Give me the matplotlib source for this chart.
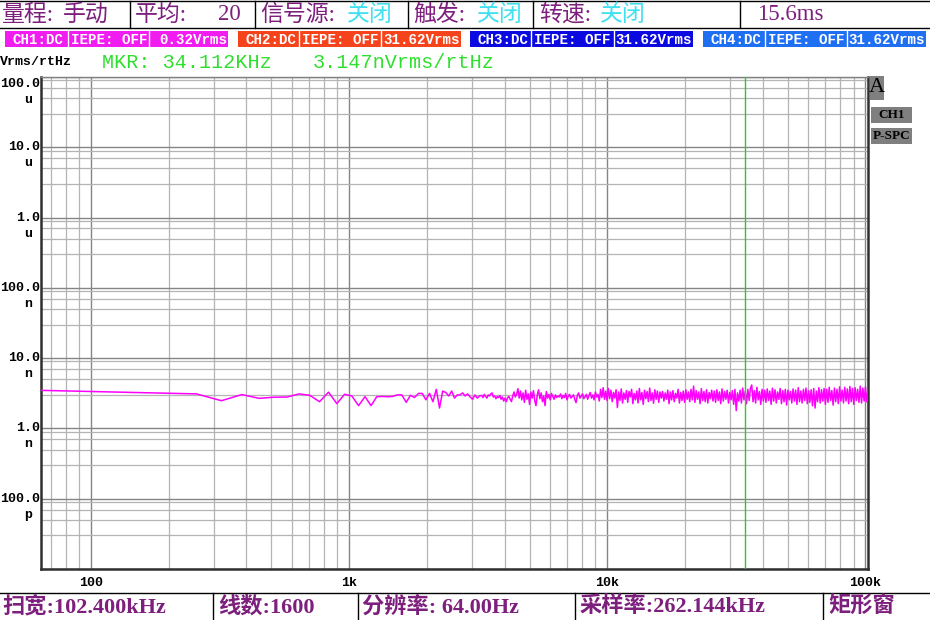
import matplotlib.pyplot as plt
import matplotlib.lines as mlines
import matplotlib.patches as mpatches
import matplotlib.transforms as mtrans
from matplotlib.ticker import LogLocator, NullFormatter
import numpy as np

W, H = 930, 620

bin_width_hz = 64.0          # 分辨率
marker_hz = 34112.0          # MKR

# first 50 lines (64 Hz .. 3.2 kHz), nV/rtHz
low_nv = [3.48, 3.28, 3.17, 3.10, 2.48, 3.03, 2.68, 2.78, 2.80, 3.10,
          2.96, 2.40, 3.28, 2.25, 3.06, 2.90, 2.11, 2.83, 2.11, 2.83,
          2.85, 2.83, 2.85, 3.00, 3.00, 2.35, 2.96, 2.75, 3.15, 3.15,
          2.55, 3.15, 2.40, 3.60, 1.95, 3.40, 3.25, 2.90, 3.40, 2.70,
          3.00, 3.00, 3.20, 2.90, 3.10, 2.80, 2.60, 3.00, 2.70, 2.90]

# dense part 3.26 kHz .. 102.4 kHz, readings taken along the log axis
hf_start_hz, hf_stop_hz = 3264.0, 102400.0
hf_nv = [2.95, 2.75, 3.05, 2.85, 2.70, 3.00, 2.90, 3.10, 3.20, 2.80, 2.90, 2.65, 2.85, 2.75, 2.95, 2.60, 2.80, 2.45, 2.70, 2.40,
         2.75, 2.85, 2.60, 2.41, 2.90, 3.30, 2.80, 3.05, 3.68, 2.70, 3.40, 2.55, 3.20, 2.35, 3.50, 2.60, 3.10, 2.20, 3.30, 2.70,
         3.45, 2.50, 2.11, 3.00, 3.55, 2.65, 3.20, 2.40, 2.90, 2.11, 3.35, 2.70, 3.05, 2.55, 3.15, 2.85, 2.60, 3.00, 2.75, 2.90,
         2.80, 3.10, 2.65, 2.95, 2.75, 3.15, 2.55, 2.90, 3.05, 2.70, 2.85, 3.00, 2.60, 2.33, 2.95, 3.20, 2.70, 2.90, 3.10, 2.65,
         2.85, 3.05, 2.60, 2.95, 3.25, 2.70, 3.00, 2.55, 3.30, 2.80, 3.05, 2.45, 3.60, 2.75, 3.80, 2.60, 3.40, 2.50, 3.70, 2.65,
         3.50, 2.40, 3.25, 2.70, 3.55, 1.98, 3.30, 2.50, 3.65, 2.30, 3.20, 2.60, 3.45, 2.35, 3.35, 2.80, 3.60, 2.25, 3.15, 2.55,
         3.40, 2.30, 3.70, 2.55, 3.25, 2.20, 3.50, 2.65, 3.35, 2.40, 3.75, 2.50, 3.20, 2.28, 3.55, 2.60, 3.40, 2.35, 3.30, 2.70,
         3.35, 2.45, 3.20, 2.60, 3.50, 2.25, 3.30, 2.55, 3.45, 2.40, 3.15, 2.70, 3.60, 2.30, 3.25, 2.50, 3.40, 2.35, 3.55, 2.60,
         3.30, 2.40, 3.60, 2.55, 4.00, 2.35, 3.45, 2.60, 3.30, 2.25, 3.70, 2.50, 3.35, 2.40, 3.55, 2.30, 3.25, 2.65, 3.50, 2.45,
         3.40, 2.35, 3.55, 2.50, 3.30, 2.25, 3.65, 2.45, 3.35, 2.60, 3.50, 2.30, 3.25, 2.55, 3.45, 2.20, 3.60, 1.79, 3.20, 2.45,
         3.50, 2.30, 3.75, 2.55, 3.40, 2.25, 3.60, 2.50, 3.70, 4.15, 2.40, 3.45, 2.30, 3.85, 2.55, 3.35, 2.20, 3.60, 2.45, 3.50,
         2.35, 3.65, 2.50, 3.40, 2.20, 3.75, 2.45, 3.55, 2.30, 3.30, 2.60, 3.70, 2.25, 3.45, 2.40, 3.60, 2.15, 3.50, 2.55, 3.35,
         2.30, 3.65, 2.45, 3.50, 2.20, 3.80, 2.40, 3.40, 2.30, 3.60, 2.50, 3.75, 2.25, 3.45, 2.35, 3.55, 2.10, 3.70, 1.95, 3.40,
         2.40, 3.80, 2.30, 3.55, 2.45, 3.70, 2.20, 3.60, 2.35, 3.85, 2.50, 3.45, 2.15, 3.75, 2.40, 3.60, 2.25, 3.90, 2.45, 3.50,
         2.30, 3.85, 2.45, 3.65, 2.25, 3.95, 2.40, 3.70, 2.20, 3.80, 2.50, 3.60, 2.35, 4.00, 2.30, 3.75, 2.45, 3.90, 2.40, 3.55]

x_ticks = [100, 1000, 10000, 100000]
x_tick_labels = ["100", "1k", "10k", "100k"]
y_ticks = [1e-4, 1e-5, 1e-6, 1e-7, 1e-8, 1e-9, 1e-10]
y_tick_nums = ["100.0", "10.0", "1.0", "100.0", "10.0", "1.0", "100.0"]
y_tick_units = ["u", "u", "u", "n", "n", "n", "p"]

header_labels = ["量程:", "平均:", "信号源:", "触发:", "转速:"]
header_values = ["手动", "20", "关闭", "关闭", "关闭"]
header_time = "15.6ms"
footer_items = ["扫宽:102.400kHz", "线数:1600", "分辨率: 64.00Hz", "采样率:262.144kHz", "矩形窗"]

ch_names = ["CH1:DC", "CH2:DC", "CH3:DC", "CH4:DC"]
ch_iepe = ["IEPE: OFF"] * 4
ch_ranges = ["0.32Vrms", "31.62Vrms", "31.62Vrms", "31.62Vrms"]
ch_colors = ["#f01cf0", "#f5431c", "#0a0ae0", "#1f6ff2"]

PURPLE = "#7d1f7d"
CYAN = "#3fe0f0"
GREEN = "#2ee02e"
CJK = ["Liberation Serif", "Noto Sans CJK SC"]
MONO = ["Liberation Mono", "DejaVu Sans Mono"]


def fx(x):
    return x / W


def fy(y):
    return 1 - y / H


def hline(fig, x0, x1, y, color="black", lw=1.0):
    fig.add_artist(mlines.Line2D([fx(x0), fx(x1)], [fy(y), fy(y)],
                                 transform=fig.transFigure, color=color, lw=lw))


def vline(fig, x, y0, y1, color="black", lw=1.0):
    fig.add_artist(mlines.Line2D([fx(x), fx(x)], [fy(y0), fy(y1)],
                                 transform=fig.transFigure, color=color, lw=lw))


def box(fig, x0, y0, x1, y1, color):
    fig.add_artist(mpatches.Rectangle((fx(x0), fy(y1)), fx(x1) - fx(x0), fy(y0) - fy(y1),
                                      transform=fig.transFigure, facecolor=color,
                                      edgecolor="none"))


fig = plt.figure(figsize=(W / 100, H / 100), dpi=100)
fig.patch.set_facecolor("white")

# ---- header row ----
hline(fig, 0, W, 1)
hline(fig, 0, W, 28)
for x in [130, 255, 408, 533, 740]:
    vline(fig, x, 1, 28)
lab_x = [2, 135, 260, 413, 539]
val_x = [63, 218, 347, 477, 600]
val_col = [PURPLE, PURPLE, CYAN, CYAN, CYAN]
hkw = dict(fontsize=16.5, family=CJK, weight="medium", va="center")
for lab, val, lx, vx, vc in zip(header_labels, header_values, lab_x, val_x, val_col):
    fig.text(fx(lx), fy(15), lab, color=PURPLE, **hkw)
    fig.text(fx(vx), fy(15), val, color=vc, **hkw)
fig.text(fx(757), fy(15), header_time, color=PURPLE, **hkw)

# ---- channel badges ----
badge_x = [(5, 68, 149, 228), (238, 299, 381, 461), (470, 531, 614, 693), (703, 765, 847, 926)]
for (x0, d1, d2, x1), name, iepe, rng, col in zip(badge_x, ch_names, ch_iepe, ch_ranges, ch_colors):
    box(fig, x0, 31, x1, 47, col)
    vline(fig, d1, 31, 47, color="white")
    vline(fig, d2, 31, 47, color="white")
    kw = dict(color="white", fontsize=10.2, family=MONO, weight="bold", va="center")
    fig.text(fx(x0 + 7), fy(39.5), name, **kw)
    fig.text(fx(d1 + 3), fy(39.5), iepe, **kw)
    fig.text(fx(x1 - 1), fy(39.5), rng, ha="right", **kw)

# ---- unit + marker readout ----
fig.text(fx(0), fy(62), "Vrms/rtHz", color="black", fontsize=9.5, family=MONO,
         weight="bold", va="center")
fig.text(fx(102), fy(63), "MKR: 34.112KHz", color=GREEN, fontsize=14.5, family=MONO, va="center")
fig.text(fx(313), fy(63), "3.147nVrms/rtHz", color=GREEN, fontsize=14.5, family=MONO, va="center")

# ---- spectrum axes ----
ax = fig.add_axes([fx(41), fy(569), fx(868) - fx(41), fy(77) - fy(569)])
low_freq = bin_width_hz * np.arange(1, len(low_nv) + 1)
hf_freq = np.geomspace(hf_start_hz, hf_stop_hz, len(hf_nv))
freq = np.concatenate([low_freq, hf_freq])
psd = np.concatenate([low_nv, hf_nv]) * 1e-9

ax.set_xscale("log")
ax.set_yscale("log")
ax.set_xlim(64, 102400)
ax.set_ylim(1e-11, 1e-4)

ax.xaxis.set_minor_locator(LogLocator(base=10, subs=np.arange(2, 10)))
ax.xaxis.set_minor_formatter(NullFormatter())
ax.yaxis.set_minor_locator(LogLocator(base=10, subs=[3, 5, 7, 9]))
ax.yaxis.set_minor_formatter(NullFormatter())
ax.set_xticks(x_ticks)
ax.set_xticklabels(x_tick_labels)
ax.set_yticks(y_ticks + [1e-11])
ax.set_yticklabels([])
ax.tick_params(which="both", length=0)
ax.tick_params(axis="x", pad=6, labelsize=9.5)
for t in ax.get_xticklabels():
    t.set_fontfamily(MONO)
    t.set_fontweight("bold")

ax.grid(which="major", color="#858585", lw=1.0)
ax.grid(which="minor", color="#b4b4b4", lw=0.9)
ax.set_axisbelow(True)

for side in ["left", "bottom", "right"]:
    ax.spines[side].set_color("#303030")
    ax.spines[side].set_linewidth(1.8)
ax.spines["top"].set_color("#808080")
ax.spines["top"].set_linewidth(1.0)

ax.plot(freq, psd, color="#ff00ff", lw=1.1, zorder=3)
ax.axvline(marker_hz, color="#22d022", lw=1.0, zorder=4)

# y labels: number on the line, unit below it
ytrans = mtrans.blended_transform_factory(ax.transAxes, ax.transData)
for i, (v, num, unit) in enumerate(zip(y_ticks, y_tick_nums, y_tick_units)):
    dy = -7 if i == 0 else 0
    ax.annotate(num, xy=(0, v), xycoords=ytrans, xytext=(-1, dy), textcoords="offset pixels",
                ha="right", va="center", fontsize=9.5, family=MONO, weight="bold",
                annotation_clip=False)
    ax.annotate(unit, xy=(0, v), xycoords=ytrans, xytext=(-13, dy - 16), textcoords="offset pixels",
                ha="center", va="center", fontsize=9.5, family=MONO, weight="bold",
                annotation_clip=False)

# ---- right side panel ----
box(fig, 870, 76, 884, 100, "#7f7f7f")
fig.text(fx(877), fy(88), "A", fontsize=16, family=["Liberation Serif"], ha="center", va="center")
box(fig, 871, 107, 912, 123, "#7f7f7f")
fig.text(fx(891.5), fy(115), "CH1", fontsize=9.5, family=["Liberation Serif"], weight="bold",
         ha="center", va="center")
box(fig, 871, 128, 912, 144, "#7f7f7f")
fig.text(fx(891.5), fy(136), "P-SPC", fontsize=9.5, family=["Liberation Serif"], weight="bold",
         ha="center", va="center")

# ---- footer row ----
hline(fig, 0, W, 593)
for x in [213, 358, 575, 823]:
    vline(fig, x, 593, H)
foot_x = [2, 218, 362, 580, 828]
for txt, x in zip(footer_items, foot_x):
    fig.text(fx(x), fy(607), txt, color=PURPLE, fontsize=16, family=CJK, weight="bold",
             va="center")

fig.savefig("out.png", dpi=100, facecolor="white")
